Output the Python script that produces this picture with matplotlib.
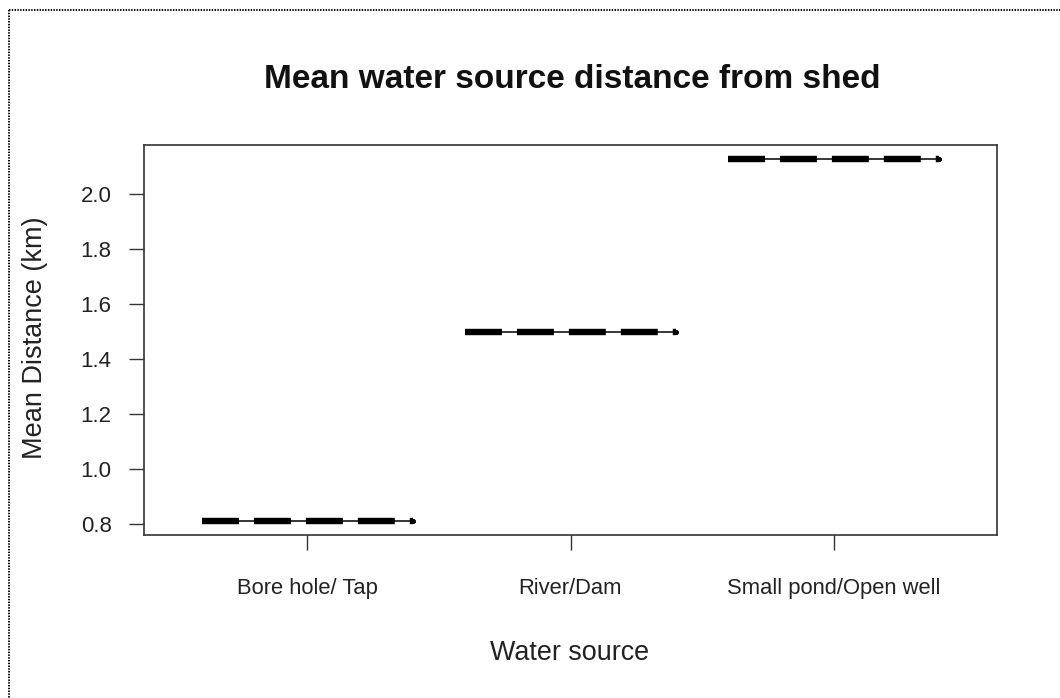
import matplotlib
matplotlib.use("Agg")
import matplotlib.pyplot as plt
from matplotlib.lines import Line2D

categories = ["Bore hole/ Tap", "River/Dam", "Small pond/Open well"]
mean_distance = [0.812, 1.497, 2.127]
y_ticks = [0.8, 1.0, 1.2, 1.4, 1.6, 1.8, 2.0]

plt.rcParams['font.family'] = ['Liberation Sans', 'DejaVu Sans']
plt.rcParams['lines.scale_dashes'] = False

W, H = 1060, 698
fig = plt.figure(figsize=(W / 100, H / 100), dpi=100)
ax = fig.add_axes([144 / W, 1 - 535 / H, (997 - 144) / W, (535 - 145) / H])

positions = list(range(1, len(categories) + 1))
half = 0.4
for p, v in zip(positions, mean_distance):
    ax.plot([p - half, p + half], [v, v], color='black', lw=1.1, solid_capstyle='butt')
    ax.plot([p - half, p + half], [v, v], color='black', lw=4.6,
            dashes=(26.6, 10.8), dash_capstyle='butt')
    ax.plot([p + half], [v], marker='o', ms=2.6, color='black')

rng = max(mean_distance) - min(mean_distance)
ax.set_xlim(0.5 - 0.04 * 3, 3.5 + 0.04 * 3)
ax.set_ylim(min(mean_distance) - 0.04 * rng, max(mean_distance) + 0.04 * rng)

ax.set_xticks(positions)
ax.set_xticklabels(categories, fontsize=15.8, color='#222222')
ax.set_yticks(y_ticks)
ax.set_yticklabels([f"{t:.1f}" for t in y_ticks], fontsize=16, color='#222222')
ax.tick_params(axis='both', length=10.8, width=1.0, color='#333333')
ax.tick_params(axis='y', pad=12.5)
ax.tick_params(axis='x', pad=20)
for s in ax.spines.values():
    s.set_color('#333333')
    s.set_linewidth(1.2)

fig.text(572 / W, 1 - 80 / H, "Mean water source distance from shed",
         ha='center', va='center', fontsize=24, fontweight='bold', color='#111111')
fig.text(570 / W, 1 - 653 / H, "Water source", ha='center', va='center',
         fontsize=19.4, color='#222222')
fig.text(35 / W, 1 - 338 / H, "Mean Distance (km)", ha='center', va='center',
         rotation=90, fontsize=19.5, color='#222222')

fig.add_artist(Line2D([9 / W, 1.0], [1 - 10 / H, 1 - 10 / H], transform=fig.transFigure,
                      color='black', lw=1.4, linestyle=(0, (1, 1))))
fig.add_artist(Line2D([9 / W, 9 / W], [1 - 10 / H, 0.0], transform=fig.transFigure,
                      color='black', lw=1.4, linestyle=(0, (1, 1))))

fig.savefig("out.png", dpi=100)
